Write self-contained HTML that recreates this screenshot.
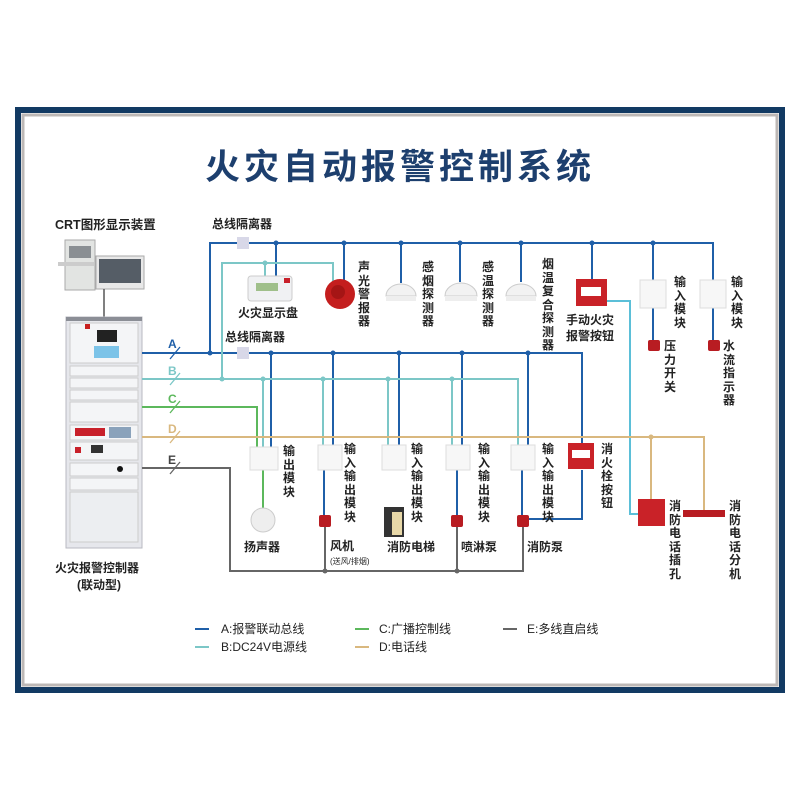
<!DOCTYPE html>
<html><head><meta charset="utf-8"><style>
*{margin:0;padding:0}
body{width:800px;height:800px;background:#fff;position:relative;overflow:hidden;font-family:"Liberation Sans","Noto Sans CJK SC",sans-serif;}
.t{position:absolute;font-size:12px;font-weight:bold;color:#222;white-space:nowrap;line-height:14px}
.v{position:absolute;font-size:12px;font-weight:bold;color:#222;width:14px;line-height:13.5px;word-break:break-all;text-align:center}
svg{position:absolute;left:0;top:0}
</style></head><body>
<svg width="800" height="800" viewBox="0 0 800 800">
<rect x="18" y="110" width="764" height="580" fill="none" stroke="#123a63" stroke-width="6"/>
<rect x="23" y="115" width="754" height="570" fill="none" stroke="#bdb8b6" stroke-width="3"/>
<rect x="65" y="240" width="30" height="50" fill="#e2e4e2" stroke="#aaa"/>
<rect x="69" y="246" width="22" height="12" fill="#8a8f93"/>
<rect x="58" y="262" width="36" height="4" fill="#ccc"/>
<rect x="96" y="256" width="48" height="33" fill="#e8e8e8" stroke="#aaa"/>
<rect x="99" y="259" width="42" height="24" fill="#555d66"/>
<line x1="104" y1="289" x2="104" y2="317" stroke="#555" stroke-width="1.5"/>
<rect x="66" y="317" width="76" height="231" fill="#e6e7ec" stroke="#b8bac2"/>
<rect x="66" y="317" width="76" height="4" fill="#8b8e96"/>
<rect x="70" y="323" width="68" height="40" fill="#f4f5f7" stroke="#ccc"/>
<rect x="97" y="330" width="20" height="12" fill="#222"/>
<rect x="94" y="346" width="25" height="12" fill="#7cc3e8"/>
<rect x="85" y="324" width="5" height="5" fill="#c82020"/>
<rect x="70" y="366" width="68" height="10" fill="#f4f5f7" stroke="#ccc"/>
<rect x="70" y="378" width="68" height="10" fill="#f4f5f7" stroke="#ccc"/>
<rect x="70" y="390" width="68" height="10" fill="#f4f5f7" stroke="#ccc"/>
<rect x="70" y="402" width="68" height="20" fill="#f4f5f7" stroke="#ccc"/>
<rect x="70" y="425" width="68" height="15" fill="#f4f5f7" stroke="#ccc"/>
<rect x="75" y="428" width="30" height="8" fill="#c8202a"/>
<rect x="109" y="427" width="22" height="11" fill="#8aa2bb"/>
<rect x="70" y="442" width="68" height="18" fill="#f4f5f7" stroke="#ccc"/>
<rect x="91" y="445" width="12" height="8" fill="#333"/>
<rect x="75" y="447" width="6" height="6" fill="#c8202a"/>
<rect x="70" y="463" width="68" height="13" fill="#f4f5f7" stroke="#ccc"/>
<circle cx="120" cy="469" r="3" fill="#111"/>
<rect x="70" y="478" width="68" height="12" fill="#f4f5f7" stroke="#ccc"/>
<rect x="70" y="492" width="68" height="50" fill="#eceef1" stroke="#ccc"/>
<g fill="none" stroke-width="2">
<g stroke="#1f5fa8">
<polyline points="142,353 582,353 582,443"/>
<polyline points="210,353 210,243 713,243 713,280"/>
<line x1="276" y1="243" x2="276" y2="277"/><line x1="344" y1="243" x2="344" y2="280"/>
<line x1="401" y1="243" x2="401" y2="283"/><line x1="460" y1="243" x2="460" y2="282"/>
<line x1="521" y1="243" x2="521" y2="282"/><line x1="592" y1="243" x2="592" y2="279"/>
<line x1="653" y1="243" x2="653" y2="280"/>
<line x1="271" y1="353" x2="271" y2="447"/><line x1="333" y1="353" x2="333" y2="445"/>
<line x1="399" y1="353" x2="399" y2="445"/><line x1="462" y1="353" x2="462" y2="445"/>
<line x1="528" y1="353" x2="528" y2="445"/>
<polyline points="582,470 582,519 528,519"/>
<line x1="324" y1="470" x2="324" y2="515"/><line x1="457" y1="470" x2="457" y2="515"/><line x1="522" y1="470" x2="522" y2="515"/>
<line x1="653" y1="308" x2="653" y2="340"/><line x1="713" y1="308" x2="713" y2="340"/>
</g>
<g stroke="#7cc7c7">
<polyline points="142,379 518,379 518,445"/>
<polyline points="222,379 222,263 333,263 333,282"/>
<line x1="265" y1="263" x2="265" y2="277"/>
<line x1="263" y1="379" x2="263" y2="447"/><line x1="323" y1="379" x2="323" y2="445"/>
<line x1="388" y1="379" x2="388" y2="445"/><line x1="452" y1="379" x2="452" y2="445"/>
<polyline points="606,301 630,301 630,514 638,514" stroke="#5bbfd8"/>
</g>
<g stroke="#5cb85c"><polyline points="142,407 257,407 257,447"/><line x1="263" y1="470" x2="263" y2="508"/></g>
<g stroke="#d9b87f"><polyline points="142,437 704,437 704,511"/><line x1="651" y1="437" x2="651" y2="499"/></g>
<g stroke="#666"><polyline points="142,468 230,468 230,571 523,571 523,527"/><line x1="325" y1="527" x2="325" y2="571"/><line x1="457" y1="527" x2="457" y2="571"/></g>
<g stroke-width="1.3">
<line x1="170" y1="359" x2="180" y2="347" stroke="#1f5fa8"/>
<line x1="170" y1="385" x2="180" y2="373" stroke="#7cc7c7"/>
<line x1="170" y1="413" x2="180" y2="401" stroke="#5cb85c"/>
<line x1="170" y1="443" x2="180" y2="431" stroke="#d9b87f"/>
<line x1="170" y1="474" x2="180" y2="462" stroke="#666"/>
</g>
</g>
<g fill="#1f5fa8"><circle cx="210" cy="353" r="2.5"/><circle cx="276" cy="243" r="2.5"/><circle cx="344" cy="243" r="2.5"/><circle cx="401" cy="243" r="2.5"/><circle cx="460" cy="243" r="2.5"/><circle cx="521" cy="243" r="2.5"/><circle cx="592" cy="243" r="2.5"/><circle cx="653" cy="243" r="2.5"/><circle cx="271" cy="353" r="2.5"/><circle cx="333" cy="353" r="2.5"/><circle cx="399" cy="353" r="2.5"/><circle cx="462" cy="353" r="2.5"/><circle cx="528" cy="353" r="2.5"/></g>
<g fill="#7cc7c7"><circle cx="222" cy="379" r="2.5"/><circle cx="265" cy="263" r="2.5"/><circle cx="263" cy="379" r="2.5"/><circle cx="323" cy="379" r="2.5"/><circle cx="388" cy="379" r="2.5"/><circle cx="452" cy="379" r="2.5"/></g>
<circle cx="651" cy="437" r="2.5" fill="#d9b87f"/><circle cx="325" cy="571" r="2.5" fill="#666"/><circle cx="457" cy="571" r="2.5" fill="#666"/>
<rect x="237" y="237" width="12" height="12" fill="#d8d8e8"/><rect x="237" y="347" width="12" height="12" fill="#d8d8e8"/>
<rect x="248" y="276" width="44" height="25" rx="3" fill="#f0f1f3" stroke="#ccc"/><rect x="256" y="283" width="22" height="8" fill="#9fbf8a"/><rect x="284" y="278" width="6" height="5" fill="#c8202a"/>
<circle cx="340" cy="294" r="15" fill="#c41e1e"/><circle cx="338" cy="292" r="7" fill="#a51515"/>
<path d="M386,296 a15,12 0 0 1 30,0 z" fill="#f2f2f2" stroke="#ccc"/><rect x="386" y="296" width="30" height="5" fill="#eee"/>
<path d="M445,296 a16,13 0 0 1 32,0 z" fill="#f2f2f2" stroke="#ccc"/><rect x="445" y="296" width="32" height="5" fill="#eee"/>
<path d="M506,296 a15,12 0 0 1 30,0 z" fill="#f2f2f2" stroke="#ccc"/><rect x="506" y="296" width="30" height="5" fill="#eee"/>
<rect x="576" y="279" width="31" height="27" fill="#c92228"/><rect x="581" y="287" width="20" height="9" fill="#fff"/>
<rect x="640" y="280" width="26" height="28" fill="#f7f7f7" stroke="#ddd"/>
<rect x="700" y="280" width="26" height="28" fill="#f7f7f7" stroke="#ddd"/>
<rect x="648" y="340" width="12" height="11" rx="2" fill="#b81c22"/><rect x="708" y="340" width="12" height="11" rx="2" fill="#b81c22"/>
<rect x="250" y="447" width="28" height="23" fill="#f7f7f7" stroke="#ddd"/>
<rect x="318" y="445" width="24" height="25" fill="#f7f7f7" stroke="#ddd"/>
<rect x="382" y="445" width="24" height="25" fill="#f7f7f7" stroke="#ddd"/>
<rect x="446" y="445" width="24" height="25" fill="#f7f7f7" stroke="#ddd"/>
<rect x="511" y="445" width="24" height="25" fill="#f7f7f7" stroke="#ddd"/>
<rect x="568" y="443" width="26" height="26" fill="#c92228"/><rect x="572" y="450" width="18" height="8" fill="#fff"/>
<circle cx="263" cy="520" r="12" fill="#eee" stroke="#ccc"/>
<rect x="319" y="515" width="12" height="12" rx="2" fill="#b81c22"/><rect x="451" y="515" width="12" height="12" rx="2" fill="#b81c22"/><rect x="517" y="515" width="12" height="12" rx="2" fill="#b81c22"/>
<rect x="384" y="507" width="20" height="30" fill="#333"/><rect x="392" y="512" width="10" height="23" fill="#e8d8a8"/>
<rect x="638" y="499" width="27" height="27" fill="#c92228"/>
<rect x="683" y="510" width="42" height="7" fill="#b81c22"/>
<g stroke-width="2"><line x1="195" y1="629" x2="209" y2="629" stroke="#1f5fa8"/><line x1="195" y1="647" x2="209" y2="647" stroke="#7cc7c7"/><line x1="355" y1="629" x2="369" y2="629" stroke="#5cb85c"/><line x1="355" y1="647" x2="369" y2="647" stroke="#d9b87f"/><line x1="503" y1="629" x2="517" y2="629" stroke="#666"/></g>
</svg>
<div class="t" style="left:0;width:800px;text-align:center;top:146px;font-size:35px;line-height:44px;color:#1d3f6e;letter-spacing:4px">火灾自动报警控制系统</div>
<div class="t" style="left:55px;top:218px;font-size:12.5px">CRT图形显示装置</div>
<div class="t" style="left:212px;top:217px">总线隔离器</div>
<div class="t" style="left:225px;top:330px">总线隔离器</div>
<div class="t" style="left:238px;top:306px">火灾显示盘</div>
<div class="t" style="left:55px;top:561px">火灾报警控制器</div>
<div class="t" style="left:77px;top:578px">(联动型)</div>
<div class="t" style="left:168px;top:337px;color:#1f5fa8">A</div>
<div class="t" style="left:168px;top:364px;color:#7cc7c7">B</div>
<div class="t" style="left:168px;top:392px;color:#5cb85c">C</div>
<div class="t" style="left:168px;top:422px;color:#d9b87f">D</div>
<div class="t" style="left:168px;top:453px;color:#444">E</div>
<div class="v" style="left:357px;top:261px">声光警报器</div>
<div class="v" style="left:421px;top:261px">感烟探测器</div>
<div class="v" style="left:481px;top:261px">感温探测器</div>
<div class="v" style="left:541px;top:258px">烟温复合探测器</div>
<div class="t" style="left:566px;top:313px">手动火灾</div>
<div class="t" style="left:566px;top:329px">报警按钮</div>
<div class="v" style="left:673px;top:276px">输入模块</div>
<div class="v" style="left:730px;top:276px">输入模块</div>
<div class="v" style="left:663px;top:340px">压力开关</div>
<div class="v" style="left:722px;top:340px">水流指示器</div>
<div class="v" style="left:282px;top:445px">输出模块</div>
<div class="v" style="left:343px;top:443px">输入输出模块</div>
<div class="v" style="left:410px;top:443px">输入输出模块</div>
<div class="v" style="left:477px;top:443px">输入输出模块</div>
<div class="v" style="left:541px;top:443px">输入输出模块</div>
<div class="v" style="left:600px;top:443px">消火栓按钮</div>
<div class="v" style="left:668px;top:500px">消防电话插孔</div>
<div class="v" style="left:728px;top:500px">消防电话分机</div>
<div class="t" style="left:244px;top:540px">扬声器</div>
<div class="t" style="left:330px;top:539px">风机</div>
<div class="t" style="left:330px;top:555px;font-size:8px;font-weight:normal">(送风/排烟)</div>
<div class="t" style="left:387px;top:540px">消防电梯</div>
<div class="t" style="left:461px;top:540px">喷淋泵</div>
<div class="t" style="left:527px;top:540px">消防泵</div>
<div class="t" style="left:221px;top:622px;font-weight:normal">A:报警联动总线</div>
<div class="t" style="left:221px;top:640px;font-weight:normal">B:DC24V电源线</div>
<div class="t" style="left:379px;top:622px;font-weight:normal">C:广播控制线</div>
<div class="t" style="left:379px;top:640px;font-weight:normal">D:电话线</div>
<div class="t" style="left:527px;top:622px;font-weight:normal">E:多线直启线</div>
</body></html>
